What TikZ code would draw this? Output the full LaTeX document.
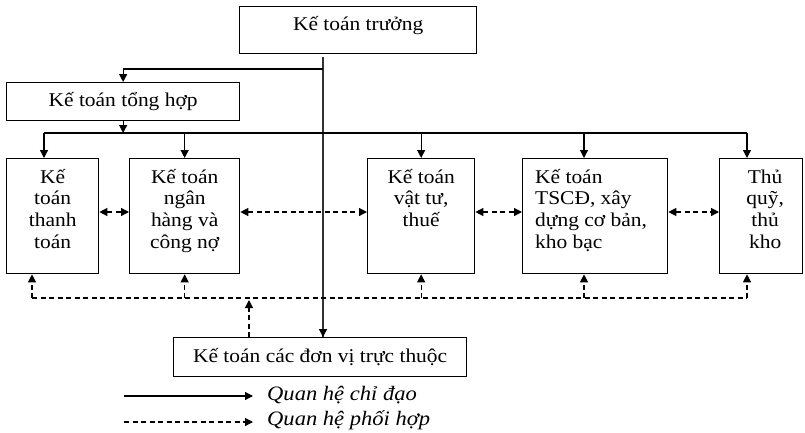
\documentclass[tikz,border=0pt]{standalone}
\usepackage{fontspec}
\setmainfont{Liberation Serif}[FakeStretch=1.1]
\usetikzlibrary{arrows.meta}
\newcommand{\fst}{\rule{0pt}{18pt}}
\begin{document}
\begin{tikzpicture}[x=1pt,y=-1pt,
  box/.style={draw,line width=1.3pt,inner sep=0pt,anchor=north west},
  txt/.style={inner sep=0pt,anchor=north,font=\fontsize{19.5}{21.7}\selectfont,align=center},
  ln/.style={line width=1.2pt},
  tip/.style={-{Triangle[length=8pt,width=8pt]}},
  dtip/.style={{Triangle[length=8pt,width=8pt]}-{Triangle[length=8pt,width=8pt]}},
  dsh/.style={line width=1.2pt,dash pattern=on 5pt off 3.5pt},
]
\useasboundingbox (0,0) rectangle (805,432);
% boxes
\node[box,minimum width=237pt,minimum height=47pt] (top) at (239,6) {};
\node[txt] (topt) at ([yshift=-6pt]top.north) {\fst Kế toán trưởng};
\node[box,minimum width=233pt,minimum height=38pt,font=\fontsize{19.5}{21.7}\selectfont] (th) at (6,82) {Kế toán tổng hợp};
\node[box,minimum width=92pt,minimum height=115pt] (b1) at (6,158) {};
\node[box,minimum width=110pt,minimum height=115pt] (b2) at (129,158) {};
\node[box,minimum width=107pt,minimum height=115pt] (b3) at (367,158) {};
\node[box,minimum width=145pt,minimum height=115pt] (b4) at (522,158) {};
\node[box,minimum width=83pt,minimum height=115pt] (b5) at (719,158) {};
\node[txt] (b1t) at ([yshift=-7pt]b1.north) {\fst Kế\\toán\\thanh\\toán};
\node[txt] (b2t) at ([yshift=-7pt]b2.north) {\fst Kế toán\\ngân\\hàng và\\công nợ};
\node[txt] (b3t) at ([yshift=-7pt]b3.north) {\fst Kế toán\\vật tư,\\thuế};
\node[txt,anchor=north west,align=left] (b4t) at ([xshift=13pt,yshift=-7pt]b4.north west) {\fst Kế toán\\TSCĐ, xây\\dựng cơ bản,\\kho bạc};
\node[txt] (b5t) at ([xshift=4pt,yshift=-7pt]b5.north) {\fst Thủ\\quỹ,\\thủ\\kho};
\node[box,minimum width=293pt,minimum height=39pt,font=\fontsize{19.5}{21.7}\selectfont] (dv) at (173,337) {Kế toán các đơn vị trực thuộc};
% coordinates
\coordinate (j0) at (323,57);
\coordinate (j1) at (323,69);
\coordinate (bl) at (44,133);
\coordinate (br) at (747,133);
\coordinate (b4x) at (584,133);
\coordinate (dl) at (32,298);
\coordinate (dr) at (747,298);
% solid hierarchy
\draw[ln,black!80] (j0) -- (j0 |- dv.north) coordinate (dvt);
\draw[ln,tip] (323,330) -- (dvt);
\draw[ln,tip] (j1) -- (j1 -| th.north) -- (th.north);
\draw[ln,tip] (th.south) -- (th.south |- bl);
\draw[ln] (bl) -- (br);
\draw[ln,tip] (bl) -- (bl |- b1.north);
\draw[ln,tip] (b2.north |- bl) -- (b2.north);
\draw[ln,tip] (b3.north |- bl) -- (b3.north);
\draw[ln,tip] (b4x) -- (b4x |- b4.north);
\draw[ln,tip] (br) -- (br |- b5.north);
% dashed peer arrows
\draw[dsh,dtip] ([yshift=-54pt]b1.north east) -- ([yshift=-54pt]b2.north west);
\draw[dsh,dtip] ([yshift=-54pt]b2.north east) -- ([yshift=-54pt]b3.north west);
\draw[dsh,dtip] ([yshift=-54pt]b3.north east) -- ([yshift=-54pt]b4.north west);
\draw[dsh,dtip] ([yshift=-54pt]b4.north east) -- ([yshift=-54pt]b5.north west);
% dashed bottom bus
\draw[dsh] (dl) -- (dr);
\draw[dsh,tip] (dl) -- (dl |- b1.south);
\draw[dsh,tip] (b2.south |- dl) -- (b2.south);
\draw[dsh,tip] (b3.south |- dl) -- (b3.south);
\draw[dsh,tip] (b4x |- dl) -- (b4x |- b4.south);
\draw[dsh,tip] (dr) -- (dr |- b5.south);
\draw[dsh,tip] (dv.north -| 249,0) -- (249,300);
% legend
\coordinate (l1a) at (124,396);
\coordinate (l1b) at (253,396);
\coordinate (l2a) at (124,422);
\coordinate (l2b) at (253,422);
\draw[ln,tip] (l1a) -- (l1b);
\draw[dsh,tip] (l2a) -- (l2b);
\node[anchor=west,inner sep=0pt,font=\fontsize{20.5}{22}\selectfont\itshape] (lg1) at (267,395) {Quan hệ chỉ đạo};
\node[anchor=west,inner sep=0pt,font=\fontsize{20.5}{22}\selectfont\itshape] (lg2) at (267,420) {Quan hệ phối hợp};
\end{tikzpicture}
\end{document}
